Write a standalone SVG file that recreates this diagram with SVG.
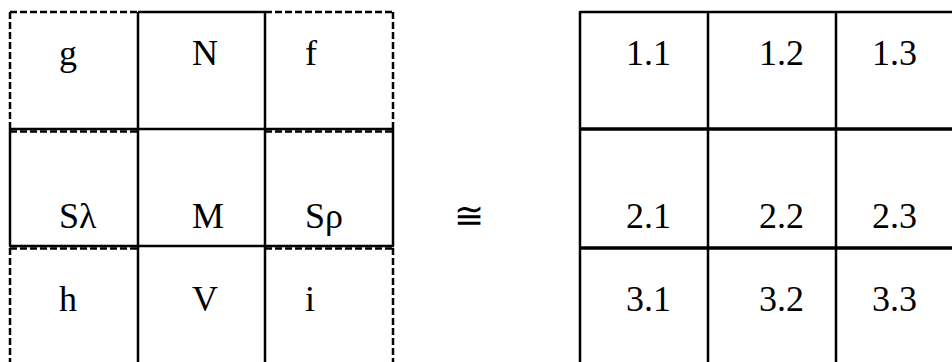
<svg xmlns="http://www.w3.org/2000/svg" width="952" height="362" viewBox="0 0 952 362">
<style>
.s{stroke:#000;stroke-width:2.5;fill:none}
.t{stroke:#000;stroke-width:3.5;fill:none}
.d{stroke:#000;stroke-width:2.5;fill:none;stroke-dasharray:7 3}
text{font-family:"Liberation Serif","DejaVu Serif",serif;font-size:36px;fill:#000}
</style>
<rect width="952" height="362" fill="#fff"/>
<g id="connectors">
<!-- left grid -->
<line class="d" x1="10" y1="12" x2="138" y2="12"/>
<line class="s" x1="138" y1="12" x2="265" y2="12"/>
<line class="d" x1="265" y1="12" x2="393" y2="12"/>
<line class="d" x1="10" y1="12" x2="10" y2="129"/>
<line class="s" x1="10" y1="129" x2="10" y2="246"/>
<line class="d" x1="10" y1="248" x2="10" y2="362"/>
<line class="d" x1="393" y1="12" x2="393" y2="129"/>
<line class="s" x1="393" y1="129" x2="393" y2="246"/>
<line class="d" x1="393" y1="248" x2="393" y2="362"/>
<line class="s" x1="138" y1="12" x2="138" y2="362"/>
<line class="s" x1="265" y1="12" x2="265" y2="362"/>
<line class="s" x1="9" y1="129" x2="394" y2="129"/>
<line class="d" x1="10" y1="131.5" x2="138" y2="131.5"/>
<line class="d" x1="265" y1="131.5" x2="393" y2="131.5"/>
<line class="s" x1="9" y1="246" x2="394" y2="246"/>
<line class="d" x1="10" y1="248.5" x2="138" y2="248.5"/>
<line class="d" x1="265" y1="248.5" x2="393" y2="248.5"/>
<!-- right grid -->
<line class="s" x1="580" y1="12" x2="952" y2="12"/>
<line class="s" x1="580" y1="11" x2="580" y2="362"/>
<line class="s" x1="708" y1="11" x2="708" y2="362"/>
<line class="s" x1="836" y1="11" x2="836" y2="362"/>
<line class="t" x1="580" y1="129" x2="952" y2="129"/>
<line class="t" x1="580" y1="248" x2="952" y2="248"/>
</g>
<g id="cell-g"><text x="59" y="65">g</text></g>
<g id="cell-N"><text x="192" y="65">N</text></g>
<g id="cell-f"><text x="305" y="65">f</text></g>
<g id="cell-Sl"><text x="59" y="228">Sλ</text></g>
<g id="cell-M"><text x="192" y="228">M</text></g>
<g id="cell-Sr"><text x="305" y="228">Sρ</text></g>
<g id="cell-h"><text x="59" y="311">h</text></g>
<g id="cell-V"><text x="192" y="311">V</text></g>
<g id="cell-i"><text x="305" y="311">i</text></g>
<g id="iso"><text x="469" y="228" text-anchor="middle">≅</text></g>
<g id="cell-11"><text x="626" y="65">1.1</text></g>
<g id="cell-12"><text x="759" y="65">1.2</text></g>
<g id="cell-13"><text x="872" y="65">1.3</text></g>
<g id="cell-21"><text x="626" y="228">2.1</text></g>
<g id="cell-22"><text x="759" y="228">2.2</text></g>
<g id="cell-23"><text x="872" y="228">2.3</text></g>
<g id="cell-31"><text x="626" y="311">3.1</text></g>
<g id="cell-32"><text x="759" y="311">3.2</text></g>
<g id="cell-33"><text x="872" y="311">3.3</text></g>
</svg>
